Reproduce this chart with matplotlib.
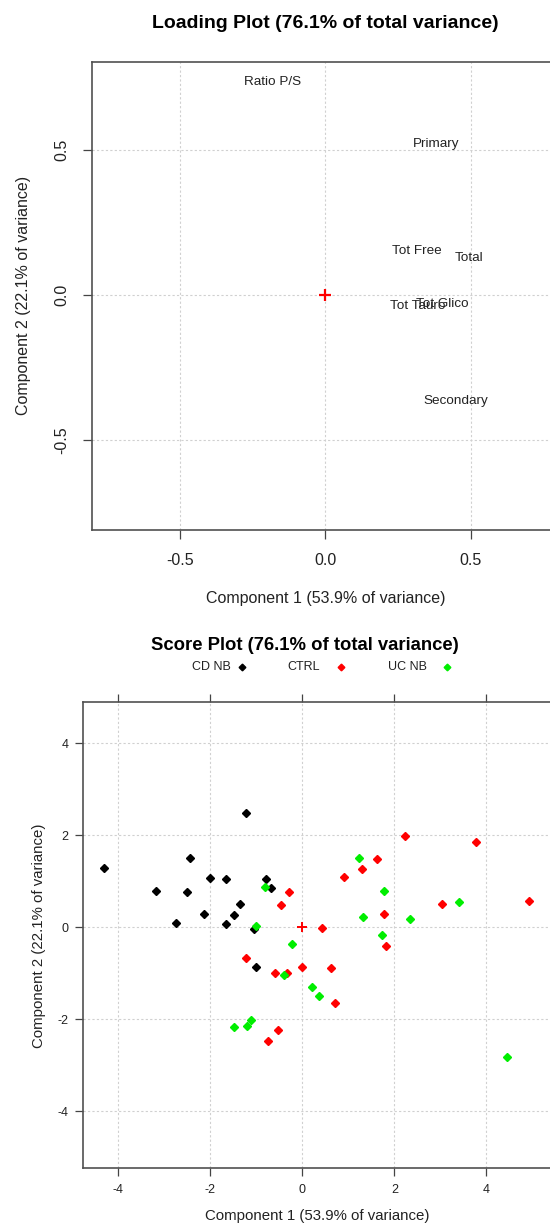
import matplotlib
matplotlib.use('Agg')
import matplotlib.pyplot as plt

plt.rcParams['font.family'] = ['Liberation Sans', 'DejaVu Sans']
plt.rcParams['axes.unicode_minus'] = False

# loadings (component 1, component 2)
load_names = ['Ratio P/S', 'Primary', 'Tot Free', 'Total', 'Tot Glico', 'Tot Tauro', 'Secondary']
load_pc1 = [-0.183, 0.380, 0.314, 0.493, 0.402, 0.318, 0.449]
load_pc2 = [0.734, 0.521, 0.152, 0.128, -0.031, -0.038, -0.366]

# scores
cd_pc1 = [-4.31, -1.22, -2.44, -2.00, -1.66, -0.79, -0.685, -3.19, -2.50, -1.35, -2.15, -1.48,
          -2.74, -1.66, -1.06, -1.00]
cd_pc2 = [1.30, 2.49, 1.51, 1.08, 1.06, 1.06, 0.85, 0.79, 0.77, 0.51, 0.29, 0.27,
          0.09, 0.07, -0.04, -0.86]
ctrl_pc1 = [-0.29, -0.47, 2.24, 3.78, 1.63, 1.30, 0.90, 3.04, 4.93, 1.78,
            0.42, 1.82, -1.23, -0.60, -0.33, -0.015, 0.63, 0.70, -0.52, -0.75]
ctrl_pc2 = [0.76, 0.49, 1.99, 1.85, 1.49, 1.27, 1.09, 0.51, 0.57, 0.29,
            -0.01, -0.41, -0.66, -0.99, -0.99, -0.86, -0.88, -1.64, -2.24, -2.46]
uc_pc1 = [-0.82, 1.23, 1.78, 3.40, 1.32, 2.33, -1.00, -0.23, 1.74, -0.41,
          0.21, 0.36, -1.12, -1.20, -1.48, 4.44]
uc_pc2 = [0.87, 1.51, 0.80, 0.55, 0.22, 0.18, 0.03, -0.36, -0.17, -1.03,
          -1.30, -1.49, -2.01, -2.15, -2.17, -2.82]

groups = ['CD NB', 'CTRL', 'UC NB']
group_cols = ['black', '#FF0000', '#00EE00']

W, H = 550, 1225
fig = plt.figure(figsize=(W / 100, H / 100), dpi=100)

grid_kw = dict(color='#D0D0D0', linestyle=(0, (2, 2)), linewidth=0.8, zorder=0)

# ---------------- loading plot ----------------
ax1 = fig.add_axes([91.9 / W, 1 - 530 / H, (559 - 91.9) / W, (530 - 62) / H])
ax1.set_xlim(-0.803, 0.803)
ax1.set_ylim(-0.81, 0.803)
for v in [-0.5, 0, 0.5]:
    ax1.axvline(v, **grid_kw)
    ax1.axhline(v, **grid_kw)
for n, x, y in zip(load_names, load_pc1, load_pc2):
    ax1.text(x, y, n, ha='center', va='center', fontsize=9.7, color='#222222')
ax1.plot([0], [0], marker='+', color='#FF0000', ms=8, mew=1.6, ls='none')
ax1.set_xticks([-0.5, 0, 0.5])
ax1.set_xticklabels(['-0.5', '0.0', '0.5'])
ax1.set_yticks([-0.5, 0, 0.5])
ax1.set_yticklabels(['-0.5', '0.0', '0.5'], rotation=90, va='center')
ax1.tick_params(direction='out', length=6.5, width=0.9, color='#444444',
                labelsize=11.5, labelcolor='#222222')
ax1.tick_params(axis='x', pad=10)
ax1.tick_params(axis='y', pad=10)
for s in ax1.spines.values():
    s.set_color('#505050')
    s.set_linewidth(1.2)
fig.text(325.5 / W, 1 - 23 / H, 'Loading Plot (76.1% of total variance)',
         ha='center', va='center', fontsize=14, fontweight='bold')
fig.text(325.5 / W, 1 - 599 / H, 'Component 1 (53.9% of variance)',
         ha='center', va='center', fontsize=11.5, color='#222222')
fig.text(24 / W, 1 - 295 / H, 'Component 2 (22.1% of variance)',
         ha='center', va='center', rotation=90, fontsize=11.5, color='#222222')

# ---------------- score plot ----------------
ax2 = fig.add_axes([83 / W, 1 - 1168 / H, (560 - 83) / W, (1168 - 702) / H])
ax2.set_xlim(-4.77, 5.6)
ax2.set_ylim(-5.23, 4.90)
for v in [-4, -2, 0, 2, 4]:
    ax2.axvline(v, **grid_kw)
    ax2.axhline(v, **grid_kw)
for xs, ys, c in zip([cd_pc1, ctrl_pc1, uc_pc1], [cd_pc2, ctrl_pc2, uc_pc2], group_cols):
    ax2.plot(xs, ys, marker='D', ms=3.6, color=c, ls='none', zorder=3)
ax2.plot([0], [0], marker='+', color='#FF0000', ms=7, mew=1.4, ls='none', zorder=4)
ax2.set_xticks([-4, -2, 0, 2, 4])
ax2.set_yticks([-4, -2, 0, 2, 4])
ax2.tick_params(direction='out', length=5.5, width=0.9, color='#444444',
                labelsize=9, labelcolor='#222222', top=True, right=True)
ax2.tick_params(axis='x', pad=6)
ax2.tick_params(axis='y', pad=5)
for s in ax2.spines.values():
    s.set_color('#505050')
    s.set_linewidth(1.2)
fig.text(305 / W, 1 - 646 / H, 'Score Plot (76.1% of total variance)',
         ha='center', va='center', fontsize=13.3, fontweight='bold')
fig.text(317 / W, 1 - 1216 / H, 'Component 1 (53.9% of variance)',
         ha='center', va='center', fontsize=10.8, color='#222222')
fig.text(39 / W, 1 - 936 / H, 'Component 2 (22.1% of variance)',
         ha='center', va='center', rotation=90, fontsize=10.8, color='#222222')

# legend across the top (key)
key_text_x = [211, 304, 407]
key_mark_x = [242, 341, 446.5]
for g, c, tx, mx in zip(groups, group_cols, key_text_x, key_mark_x):
    fig.text(tx / W, 1 - 667 / H, g, ha='center', va='center', fontsize=9, color='#222222')
    fig.lines.append(plt.Line2D([mx / W], [1 - 667 / H], marker='D', ms=3.4, color=c,
                                ls='none', transform=fig.transFigure))

fig.savefig('out.png', dpi=100)
